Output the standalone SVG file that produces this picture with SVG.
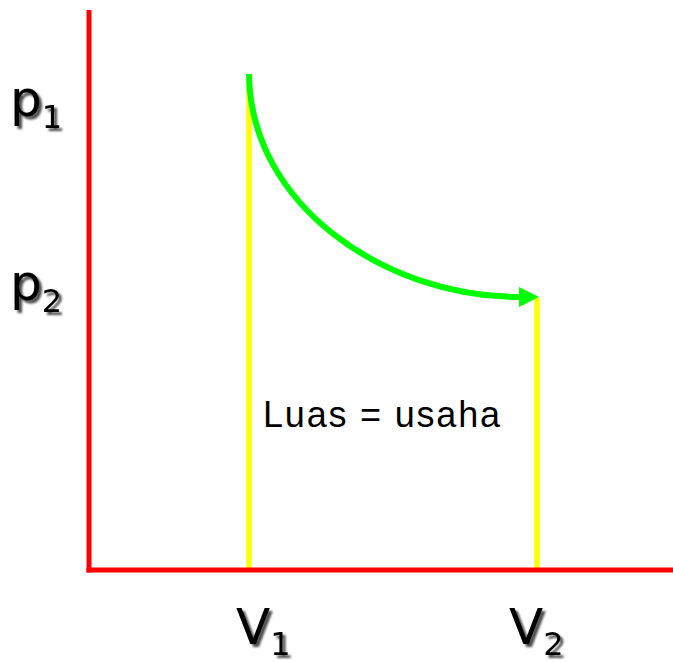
<svg xmlns="http://www.w3.org/2000/svg" width="673" height="662" viewBox="0 0 673 662">
<style>
.lbl{font-family:"DejaVu Sans",Verdana,sans-serif;fill:#000;}
.big{font-size:50px;}
.sub{font-size:32px;}
.axis{stroke:#FF0000;stroke-width:5;fill:none;}
.bound{stroke:#FFFF00;stroke-width:5.5;fill:none;}
.proc{stroke:#00FF00;stroke-width:6;fill:none;}
</style>
<defs>
<filter id="sh" x="-20%" y="-20%" width="150%" height="150%">
<feGaussianBlur in="SourceAlpha" stdDeviation="1.3"/>
<feOffset dx="2.5" dy="2.5" result="b"/>
<feFlood flood-color="#000" flood-opacity="0.7"/>
<feComposite in2="b" operator="in" result="s"/>
<feMerge><feMergeNode in="s"/><feMergeNode in="SourceGraphic"/></feMerge>
</filter>
<marker id="ah" markerUnits="userSpaceOnUse" markerWidth="20" markerHeight="20" refX="0" refY="9" orient="auto" viewBox="0 0 18 18">
<path d="M0,0 L18,9 L0,18 Z" fill="#00FF00"/>
</marker>
</defs>
<rect width="673" height="662" fill="#fff"/>
<g id="connectors">
<line id="bound-v1" class="bound" x1="249" y1="74" x2="249" y2="570"/>
<line id="bound-v2" class="bound" x1="537" y1="298" x2="537" y2="570"/>
<line id="axis-y" class="axis" x1="89" y1="10" x2="89" y2="572.5"/>
<line id="axis-x" class="axis" x1="86.5" y1="570" x2="673" y2="570"/>
<path id="process" class="proc" d="M249,74 C250,205 385,297 519,297" marker-end="url(#ah)"/>
</g>
<g id="label-p1" filter="url(#sh)"><text class="lbl big" x="10" y="116">p<tspan class="sub" dy="12">1</tspan></text></g>
<g id="label-p2" filter="url(#sh)"><text class="lbl big" x="10" y="300">p<tspan class="sub" dy="12">2</tspan></text></g>
<g id="label-V1" filter="url(#sh)"><text class="lbl big" x="236" y="644">V<tspan class="sub" dy="11">1</tspan></text></g>
<g id="label-V2" filter="url(#sh)"><text class="lbl big" x="509" y="644">V<tspan class="sub" dy="11">2</tspan></text></g>
<g id="label-area"><text x="263" y="427" font-family="Liberation Sans,Arial,sans-serif" font-size="36" fill="#000" textLength="237" lengthAdjust="spacing">Luas = usaha</text></g>
</svg>
